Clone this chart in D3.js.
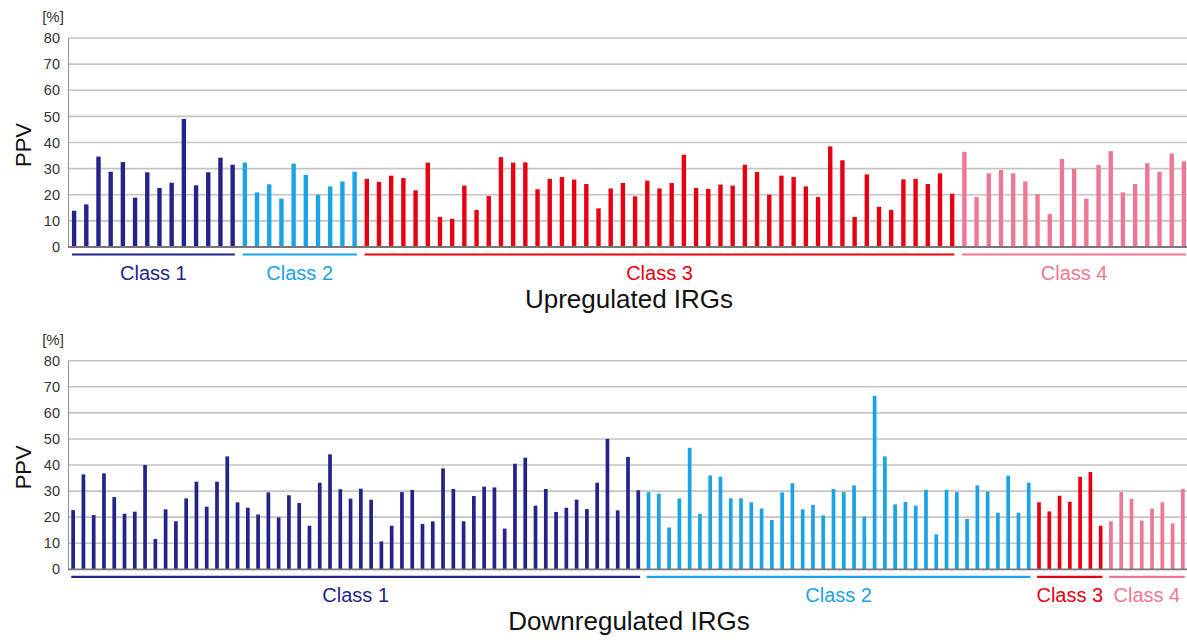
<!DOCTYPE html>
<html>
<head>
<meta charset="utf-8">
<script src="https://cdn.jsdelivr.net/npm/d3@7"></script>
<style>
  body { margin: 0; background: #fff; }
  text { font-family: "Liberation Sans", Arial, sans-serif; }
</style>
</head>
<body>
<svg id="chart" width="1187" height="643"></svg>
<script>
// class names + colours
var classNames = ["Class 1", "Class 2", "Class 3", "Class 4"];
var classColors = ["#23238c", "#1aa3e6", "#e60012", "#ee7893"];
var yTicks = [0, 10, 20, 30, 40, 50, 60, 70, 80];

// upregulated IRGs, PPV [%]
var up1 = [13.9, 16.3, 34.6, 28.8, 32.5, 18.9, 28.6, 22.6, 24.6, 49, 23.6, 28.6, 34.2, 31.5];
var up2 = [32.3, 20.9, 24, 18.5, 31.9, 27.6, 20, 23.2, 25.1, 28.8];
var up3 = [26.1, 24.9, 27.3, 26.4, 21.7, 32.3, 11.5, 10.8, 23.5, 14.2,
           19.5, 34.4, 32.3, 32.4, 22.1, 26.1, 26.8, 25.8, 24.1, 14.8,
           22.4, 24.5, 19.4, 25.4, 22.4, 24.5, 35.3, 22.6, 22.2, 23.9,
           23.5, 31.5, 28.7, 20.0, 27.3, 26.8, 23.2, 19.1, 38.5, 33.2,
           11.5, 27.8, 15.4, 14.2, 25.9, 26.1, 24.1, 28.2, 20.4];
var up4 = [36.4, 19.1, 28.2, 29.5, 28.2, 25.1, 20.2, 12.6, 33.7, 30.0,
           18.5, 31.4, 36.7, 20.9, 24.1, 32.1, 28.8, 35.8, 32.8];

// downregulated IRGs, PPV [%]
var dn1 = [22.7, 36.4, 20.8, 36.8, 27.7, 21.3, 22.1, 40, 11.6, 23,
           18.4, 27.2, 33.6, 24, 33.6, 43.3, 25.7, 23.6, 21, 29.5,
           19.9, 28.4, 25.4, 16.7, 33.2, 44.1, 30.7, 27.1, 30.9, 26.7,
           10.7, 16.7, 29.6, 30.4, 17.4, 18.4, 38.7, 30.8, 18.4, 28.1,
           31.7, 31.4, 15.6, 40.5, 42.8, 24.4, 30.8, 22, 23.6, 26.7,
           23.1, 33.2, 50, 22.6, 43.1, 30.3];
var dn2 = [29.6, 29.0, 16, 27.2, 46.6, 21.3, 36, 35.5, 27.2, 27.2,
           25.7, 23.3, 18.9, 29.5, 33.0, 23.0, 24.7, 20.7, 30.8, 29.6,
           32.2, 20.2, 66.5, 43.3, 24.9, 25.8, 24.4, 30.5, 13.4, 30.5,
           29.6, 19.3, 32.2, 29.8, 21.7, 35.9, 21.7, 33.2];
var dn3 = [25.7, 22.2, 28.2, 25.9, 35.4, 37.3, 16.7];
var dn4 = [18.4, 29.6, 27.0, 18.7, 23.3, 25.7, 17.6, 30.8];

var svg = d3.select("#chart");

function drawPanel(groups, title, y0, y80, xRight) {
  // flatten the class groups into one list of bars
  var bars = [];
  groups.forEach(function (g, ci) {
    g.forEach(function (v) { bars.push({cls: ci, value: v}); });
  });
  bars.forEach(function (d, i) { d.idx = i; });

  var x = d3.scaleBand()
    .domain(bars.map(function (d) { return d.idx; }))
    .range([68, xRight])
    .paddingInner(0.64)
    .paddingOuter(0.32);
  var y = d3.scaleLinear().domain([0, 80]).range([y0, y80]);

  var g = svg.append("g");

  // gridlines
  g.selectAll(".grid")
    .data(yTicks.filter(function (t) { return t > 0; }))
    .enter().append("line")
    .attr("x1", 68).attr("x2", 1187)
    .attr("y1", function (d) { return y(d); })
    .attr("y2", function (d) { return y(d); })
    .attr("stroke", "#c4c4c4")
    .attr("stroke-width", 1.6);

  // y axis
  var axis = g.append("g")
    .attr("transform", "translate(68,0)")
    .call(d3.axisLeft(y).tickValues(yTicks).tickSize(0).tickPadding(8));
  axis.select(".domain").attr("stroke", "#999").attr("stroke-width", 1.2);
  axis.selectAll("text")
    .style("font-size", "14.5px")
    .attr("fill", "#333");

  // bars
  g.selectAll(".bar")
    .data(bars)
    .enter().append("rect")
    .attr("x", function (d) { return x(d.idx); })
    .attr("width", x.bandwidth())
    .attr("y", function (d) { return y(d.value); })
    .attr("height", function (d) { return y(0) - y(d.value); })
    .attr("fill", function (d) { return classColors[d.cls]; });

  // baseline
  g.append("line")
    .attr("x1", 68).attr("x2", 1187)
    .attr("y1", y(0)).attr("y2", y(0))
    .attr("stroke", "#777")
    .attr("stroke-width", 1.8);

  // class underline + label
  groups.forEach(function (grp, ci) {
    var first = bars.filter(function (d) { return d.cls === ci; })[0].idx;
    var last = first + grp.length - 1;
    var xa = x(first), xb = Math.min(x(last) + x.bandwidth(), 1187);
    g.append("line")
      .attr("x1", xa).attr("x2", xb)
      .attr("y1", y0 + 7.5).attr("y2", y0 + 7.5)
      .attr("stroke", classColors[ci])
      .attr("stroke-width", 2.2);
    g.append("text")
      .attr("x", (xa + xb) / 2)
      .attr("y", y0 + 32.5)
      .attr("text-anchor", "middle")
      .style("font-size", "20px")
      .attr("fill", classColors[ci])
      .text(classNames[ci]);
  });

  // unit + y label + title
  g.append("text")
    .attr("x", 53).attr("y", y80 - 16)
    .attr("text-anchor", "middle")
    .style("font-size", "15px")
    .attr("fill", "#333")
    .text("[%]");

  g.append("text")
    .attr("transform", "translate(31," + (y0 - 102) + ") rotate(-90)")
    .attr("text-anchor", "middle")
    .style("font-size", "22px")
    .attr("fill", "#111")
    .text("PPV");

  g.append("text")
    .attr("x", 629).attr("y", y0 + 61)
    .attr("text-anchor", "middle")
    .style("font-size", "26px")
    .attr("fill", "#111")
    .text(title);
}

drawPanel([up1, up2, up3, up4], "Upregulated IRGs", 247, 38, 1190);
drawPanel([dn1, dn2, dn3, dn4], "Downregulated IRGs", 569.3, 360.7, 1188);
</script>
</body>
</html>
